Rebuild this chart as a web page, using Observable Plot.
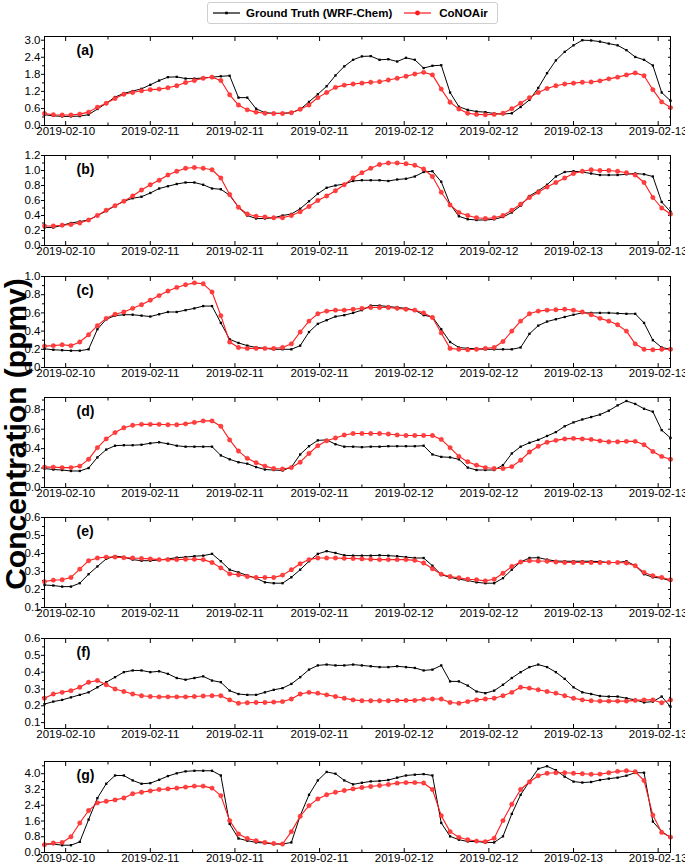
<!DOCTYPE html>
<html>
<head>
<meta charset="utf-8">
<script src="https://cdn.jsdelivr.net/npm/d3@7"></script>
<script src="https://cdn.jsdelivr.net/npm/@observablehq/plot@0.6"></script>
<style>
  html, body { margin: 0; padding: 0; background: #fff; }
  #root { position: relative; width: 685px; height: 862px; overflow: hidden; font-family: "Liberation Sans", Arial, sans-serif; }
  .panel { position: absolute; left: 0; }
  #legend { position: absolute; left: 207px; top: 2px; width: 291px; height: 22px; box-sizing: border-box;
            border: 1px solid #cfcfcf; border-radius: 3px; display: flex; align-items: center;
            font-weight: bold; font-size: 11.5px; color: #000; white-space: nowrap; }
  #legend .item { display: flex; align-items: center; }
  #ytitle { position: absolute; left: -184px; top: 419px; width: 400px; height: 30px; line-height: 30px;
            text-align: center; transform: rotate(-90deg); font-weight: bold; font-size: 30px; color: #000; white-space: nowrap; }
</style>
</head>
<body>
<div id="root">
  <div id="legend"></div>
  <div id="ytitle">Concentration (ppmv)</div>
</div>
<script>
// ---------------- data ----------------
const seriesNames = ["Ground Truth (WRF-Chem)", "CoNOAir"];
const panelLabels = ["(a)", "(b)", "(c)", "(d)", "(e)", "(f)", "(g)"];
const startTime = "2019-02-10T12:00:00Z";   // first hourly sample
const tickLabels = ["2019-02-10", "2019-02-11", "2019-02-11", "2019-02-11", "2019-02-12", "2019-02-12", "2019-02-13", "2019-02-13"];
const firstTick = "2019-02-10T14:24:00Z";   // ticks every 0.4 day
const tickStepHours = 9.6;

const truthA = [0.38,0.34,0.32,0.32,0.33,0.38,0.58,0.78,1.00,1.13, 1.21,1.29,1.43,1.58,1.70,1.71,1.65,1.65,1.67,1.70,
  1.73,1.75,0.98,0.98,0.59,0.45,0.43,0.43,0.45,0.57, 0.83,1.10,1.38,1.76,2.08,2.31,2.43,2.44,2.31,2.33,
  2.25,2.38,2.31,2.02,2.10,2.12,1.16,0.66,0.55,0.49, 0.47,0.42,0.40,0.43,0.65,0.90,1.32,1.84,2.29,2.59,
  2.82,3.00,2.99,2.95,2.88,2.82,2.65,2.41,2.31,2.11, 1.16,0.87];
const predA = [0.42,0.38,0.37,0.37,0.40,0.47,0.64,0.78,0.95,1.10, 1.16,1.22,1.26,1.28,1.33,1.40,1.51,1.58,1.66,1.70,
  1.58,1.08,0.72,0.55,0.47,0.43,0.42,0.42,0.45,0.57, 0.72,0.98,1.16,1.34,1.42,1.46,1.49,1.52,1.54,1.60,
  1.66,1.73,1.81,1.87,1.78,1.28,0.82,0.58,0.43,0.39, 0.38,0.39,0.43,0.59,0.78,0.98,1.16,1.30,1.40,1.46,
  1.49,1.52,1.53,1.57,1.64,1.70,1.78,1.85,1.75,1.26, 0.83,0.63];

const truthB = [0.24,0.24,0.27,0.30,0.32,0.34,0.40,0.46,0.53,0.59, 0.63,0.65,0.70,0.76,0.79,0.82,0.84,0.84,0.81,0.76,
  0.75,0.67,0.51,0.40,0.36,0.36,0.37,0.40,0.42,0.49, 0.59,0.69,0.77,0.80,0.82,0.86,0.87,0.87,0.87,0.86,
  0.88,0.89,0.92,0.98,0.99,0.85,0.55,0.39,0.35,0.34, 0.34,0.35,0.38,0.44,0.53,0.66,0.73,0.81,0.92,0.98,
  0.99,0.98,0.96,0.94,0.94,0.94,0.95,0.96,0.95,0.92, 0.58,0.45];
const predB = [0.26,0.26,0.27,0.28,0.30,0.34,0.40,0.47,0.53,0.59, 0.66,0.74,0.81,0.87,0.94,0.99,1.03,1.04,1.03,1.01,
  0.90,0.68,0.51,0.42,0.39,0.38,0.37,0.37,0.40,0.45, 0.52,0.60,0.66,0.73,0.81,0.90,0.97,1.03,1.08,1.10,
  1.10,1.09,1.07,1.02,0.92,0.71,0.54,0.44,0.40,0.37, 0.36,0.37,0.40,0.47,0.55,0.64,0.71,0.78,0.84,0.90,
  0.96,0.99,1.01,1.00,1.00,0.99,0.97,0.94,0.84,0.64, 0.50,0.42];

const truthC = [0.205,0.195,0.19,0.185,0.185,0.20,0.42,0.53,0.57,0.58, 0.58,0.57,0.56,0.585,0.61,0.61,0.63,0.65,0.675,0.675,
  0.49,0.31,0.27,0.24,0.22,0.21,0.20,0.20,0.20,0.24, 0.39,0.48,0.52,0.56,0.575,0.60,0.63,0.68,0.68,0.67,
  0.66,0.65,0.63,0.575,0.555,0.42,0.28,0.22,0.21,0.205, 0.20,0.20,0.20,0.20,0.22,0.37,0.46,0.505,0.53,0.555,
  0.58,0.60,0.60,0.60,0.60,0.595,0.59,0.59,0.49,0.30, 0.22,0.20];
const predC = [0.235,0.24,0.25,0.24,0.28,0.36,0.46,0.54,0.585,0.61, 0.65,0.69,0.74,0.79,0.84,0.88,0.91,0.93,0.92,0.83,
  0.57,0.28,0.22,0.21,0.21,0.21,0.21,0.22,0.26,0.39, 0.51,0.59,0.62,0.63,0.63,0.64,0.65,0.66,0.66,0.66,
  0.65,0.64,0.63,0.60,0.55,0.38,0.21,0.20,0.195,0.20, 0.21,0.22,0.285,0.40,0.51,0.59,0.62,0.63,0.635,0.64,
  0.63,0.61,0.58,0.54,0.51,0.47,0.40,0.26,0.20,0.195, 0.20,0.20];

const truthD = [0.195,0.185,0.18,0.17,0.17,0.20,0.31,0.39,0.43,0.435, 0.435,0.44,0.455,0.465,0.45,0.43,0.42,0.42,0.42,0.42,
  0.33,0.29,0.26,0.245,0.21,0.185,0.18,0.175,0.21,0.34, 0.425,0.485,0.49,0.445,0.42,0.42,0.415,0.42,0.42,0.425,
  0.425,0.425,0.425,0.43,0.34,0.315,0.31,0.29,0.205,0.18, 0.18,0.18,0.23,0.35,0.42,0.46,0.49,0.53,0.57,0.63,
  0.67,0.70,0.725,0.75,0.79,0.845,0.89,0.86,0.81,0.78, 0.59,0.51];
const predD = [0.21,0.21,0.205,0.205,0.22,0.29,0.41,0.50,0.565,0.615, 0.64,0.65,0.65,0.65,0.645,0.645,0.655,0.67,0.685,0.685,
  0.63,0.49,0.375,0.30,0.255,0.22,0.195,0.19,0.205,0.26, 0.35,0.43,0.48,0.51,0.54,0.555,0.555,0.555,0.555,0.55,
  0.54,0.535,0.535,0.535,0.535,0.495,0.41,0.32,0.265,0.23, 0.205,0.195,0.195,0.215,0.28,0.365,0.425,0.465,0.485,0.50,
  0.505,0.50,0.495,0.48,0.47,0.47,0.475,0.475,0.44,0.37, 0.32,0.29];

const truthE = [0.225,0.222,0.216,0.216,0.235,0.285,0.328,0.37,0.385,0.38, 0.366,0.36,0.36,0.364,0.37,0.377,0.38,0.385,0.388,0.398,
  0.357,0.31,0.295,0.278,0.263,0.24,0.235,0.235,0.268,0.31, 0.357,0.398,0.413,0.403,0.39,0.388,0.388,0.388,0.39,0.388,
  0.385,0.38,0.375,0.375,0.332,0.282,0.268,0.257,0.25,0.24, 0.235,0.235,0.263,0.31,0.353,0.375,0.377,0.366,0.358,0.357,
  0.357,0.357,0.357,0.355,0.35,0.35,0.357,0.332,0.285,0.268, 0.263,0.248];
const predE = [0.244,0.252,0.254,0.267,0.313,0.36,0.375,0.38,0.38,0.377, 0.375,0.372,0.37,0.366,0.366,0.366,0.368,0.368,0.366,0.35,
  0.32,0.287,0.282,0.272,0.267,0.267,0.267,0.28,0.31,0.343, 0.366,0.375,0.375,0.375,0.373,0.372,0.37,0.368,0.366,0.366,
  0.366,0.366,0.362,0.347,0.315,0.285,0.272,0.265,0.257,0.254, 0.248,0.257,0.29,0.328,0.353,0.36,0.358,0.357,0.353,0.35,
  0.35,0.35,0.35,0.35,0.35,0.35,0.347,0.332,0.295,0.276, 0.267,0.254];

const truthF = [0.21,0.225,0.235,0.25,0.265,0.28,0.31,0.34,0.37,0.40, 0.41,0.41,0.40,0.405,0.39,0.365,0.355,0.365,0.375,0.35,
  0.34,0.29,0.27,0.265,0.265,0.28,0.295,0.305,0.33,0.37, 0.415,0.44,0.445,0.44,0.44,0.445,0.44,0.435,0.43,0.43,
  0.435,0.43,0.425,0.41,0.415,0.44,0.345,0.345,0.32,0.285, 0.275,0.29,0.325,0.365,0.40,0.43,0.445,0.43,0.40,0.36,
  0.31,0.28,0.27,0.258,0.255,0.255,0.245,0.235,0.22,0.225, 0.255,0.195];
const predF = [0.245,0.27,0.28,0.29,0.31,0.34,0.35,0.325,0.30,0.285, 0.27,0.26,0.255,0.253,0.253,0.253,0.253,0.255,0.258,0.26,
  0.26,0.235,0.215,0.218,0.22,0.22,0.222,0.225,0.24,0.27, 0.28,0.275,0.265,0.255,0.245,0.235,0.23,0.23,0.23,0.23,
  0.232,0.232,0.232,0.238,0.24,0.24,0.22,0.215,0.225,0.235, 0.24,0.245,0.26,0.28,0.31,0.305,0.295,0.285,0.275,0.26,
  0.245,0.235,0.23,0.228,0.228,0.228,0.228,0.232,0.235,0.235, 0.218,0.235];

const truthG = [0.43,0.43,0.37,0.37,0.54,1.67,2.76,3.49,3.91,3.91, 3.66,3.49,3.52,3.69,3.88,4.02,4.12,4.15,4.15,4.15,
  3.91,1.45,0.71,0.60,0.51,0.48,0.43,0.43,0.51,1.87, 2.93,3.66,4.09,4.00,3.66,3.46,3.54,3.61,3.63,3.68,
  3.80,3.91,3.95,3.98,3.91,1.50,0.82,0.65,0.56,0.56, 0.51,0.51,0.82,1.96,2.93,3.61,4.25,4.38,4.18,3.85,
  3.60,3.55,3.58,3.68,3.75,3.80,3.90,4.05,4.05,1.57, 1.06,0.77];
const predG = [0.39,0.48,0.51,0.80,1.50,2.13,2.52,2.60,2.67,2.77, 2.98,3.06,3.13,3.20,3.23,3.27,3.32,3.37,3.37,3.27,
  2.89,1.62,0.94,0.71,0.60,0.51,0.46,0.43,1.06,1.84, 2.38,2.72,2.93,3.06,3.15,3.23,3.30,3.35,3.40,3.45,
  3.52,3.55,3.55,3.53,3.20,1.87,1.06,0.77,0.65,0.58, 0.55,0.72,1.62,2.45,3.20,3.58,3.90,4.02,4.05,4.05,
  4.02,4.00,3.97,3.98,4.05,4.12,4.15,4.10,3.65,1.90, 1.02,0.78];

const yDomains = [[0, 3.13], [0, 1.2], [0, 1.0], [0, 0.926], [0.1, 0.6], [0.065, 0.6], [0, 4.62]];
const yTicks = [[0,0.6,1.2,1.8,2.4,3.0], [0,0.2,0.4,0.6,0.8,1.0,1.2], [0,0.2,0.4,0.6,0.8,1.0], [0,0.2,0.4,0.6,0.8],
                [0.1,0.2,0.3,0.4,0.5,0.6], [0.1,0.2,0.3,0.4,0.5,0.6], [0,0.8,1.6,2.4,3.2,4.0]];

const truthSeries = [truthA, truthB, truthC, truthD, truthE, truthF, truthG];
const predSeries = [predA, predB, predC, predD, predE, predF, predG];

// layout (frame top / bottom, px)
const frameTops = [36, 155, 276, 397, 517, 638, 761];
const frameBottoms = [125, 245, 367, 487, 607, 728, 852];

const truthColor = "#000000";
const predColor = "#ff1a1a";

// ---------------- build ----------------
const t0 = new Date(startTime);
const times = truthA.map((_, i) => d3.utcHour.offset(t0, i));
const tickStart = new Date(firstTick);
const majorTicks = tickLabels.map((_, k) => new Date(+tickStart + k * tickStepHours * 3600e3));
const minorTicks = majorTicks.map(d => new Date(+d + tickStepHours * 1800e3)).filter(d => d <= times[times.length - 1]);
const fmt1 = d3.format(".1f");

const root = document.getElementById("root");

// legend
const legend = document.getElementById("legend");
function swatch(color, isCircle) {
  const ns = "http://www.w3.org/2000/svg";
  const s = document.createElementNS(ns, "svg");
  s.setAttribute("width", 27); s.setAttribute("height", 10);
  s.innerHTML = `<line x1="0" y1="5" x2="27" y2="5" stroke="${color}" stroke-width="1.2"/>` +
    (isCircle ? `<circle cx="13.5" cy="5" r="2.4" fill="${color}"/>` : `<rect x="12.2" y="3.7" width="2.6" height="2.6" fill="${color}"/>`);
  return s;
}
[[seriesNames[0], truthColor, false, 5, 6], [seriesNames[1], predColor, true, 12, 8]].forEach(([name, c, circ, ml, gap]) => {
  const it = document.createElement("div"); it.className = "item"; it.style.marginLeft = ml + "px";
  const sw = swatch(c, circ); sw.style.marginRight = gap + "px";
  it.appendChild(sw);
  const tx = document.createElement("span"); tx.textContent = name; it.appendChild(tx);
  legend.appendChild(it);
});

function minorOf(ticks, dom) {
  const step = ticks[1] - ticks[0];
  const out = [];
  for (let i = -1; i < ticks.length; i++) {
    const v = (i < 0 ? ticks[0] - step : ticks[i]) + step / 2;
    if (v >= dom[0] && v <= dom[1]) out.push(v);
  }
  return out;
}

for (let k = 0; k < 7; k++) {
  const T = frameTops[k], B = frameBottoms[k];
  const mt = 6, mb = 18;
  const data = times.map((t, i) => ({t, truth: truthSeries[k][i], pred: predSeries[k][i]}));
  const ymin = minorOf(yTicks[k], yDomains[k]);
  const chart = Plot.plot({
    width: 685, height: B - T + mt + mb,
    marginLeft: 44, marginRight: 15, marginTop: mt, marginBottom: mb,
    x: {type: "utc", domain: [times[0], times[times.length - 1]]},
    y: {domain: yDomains[k]},
    style: {fontFamily: "'Liberation Sans', Arial, sans-serif", fontSize: "11.5px", color: "#000", background: "transparent", overflow: "visible"},
    marks: [
      Plot.axisX(majorTicks, {anchor: "bottom", tickSize: 0, tickPadding: 1, tickFormat: (d, i) => tickLabels[i], label: null, fontSize: 11.5}),
      Plot.axisX(majorTicks, {anchor: "bottom", tickSize: -4, tickFormat: () => "", label: null}),
      Plot.axisX(majorTicks, {anchor: "top", tickSize: -4, tickFormat: () => "", label: null}),
      Plot.axisX(minorTicks, {anchor: "bottom", tickSize: -2.5, tickFormat: () => "", label: null}),
      Plot.axisX(minorTicks, {anchor: "top", tickSize: -2.5, tickFormat: () => "", label: null}),
      Plot.axisY(yTicks[k], {anchor: "left", tickSize: 3, tickPadding: 1, tickFormat: fmt1, label: null, fontSize: 11.5}),
      Plot.axisY(ymin, {anchor: "left", tickSize: 2, tickFormat: () => "", label: null}),
      Plot.axisY(yTicks[k], {anchor: "right", tickSize: -3, tickFormat: () => "", label: null}),
      Plot.axisY(ymin, {anchor: "right", tickSize: -2, tickFormat: () => "", label: null}),
      Plot.line(data, {x: "t", y: "truth", stroke: truthColor, strokeWidth: 1}),
      Plot.dot(data, {x: "t", y: "truth", symbol: "square", r: 1.3, fill: truthColor}),
      Plot.line(data, {x: "t", y: "pred", stroke: predColor, strokeWidth: 1.1}),
      Plot.dot(data, {x: "t", y: "pred", r: 2.2, fill: "#ff4040", stroke: predColor, strokeWidth: 0.4}),
      Plot.frame({stroke: "#000", strokeWidth: 1}),
      Plot.text([panelLabels[k]], {frameAnchor: "top-left", dx: 32, dy: 14, text: d => d, fontWeight: "bold", fontSize: 14, textAnchor: "start", lineAnchor: "middle"})
    ]
  });
  chart.classList.add("panel");
  chart.style.top = (T - mt) + "px";
  root.appendChild(chart);
}
</script>
</body>
</html>
